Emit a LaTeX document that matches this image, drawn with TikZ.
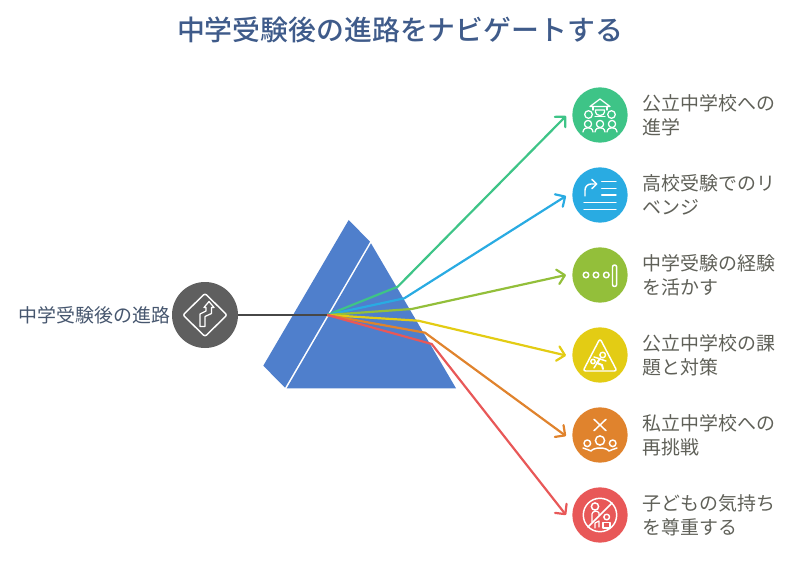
\documentclass[tikz,border=0pt]{standalone}
\usepackage{fontspec}
\setmainfont{Noto Sans CJK JP}
\newfontfamily\titlefont{Noto Sans CJK JP Medium}
\usetikzlibrary{arrows.meta}
\definecolor{cg}{HTML}{3EC487}
\definecolor{cb}{HTML}{29ABE2}
\definecolor{co}{HTML}{93BF3A}
\definecolor{cy}{HTML}{E3CC14}
\definecolor{cr}{HTML}{E0832D}
\definecolor{cd}{HTML}{E85858}
\definecolor{prism}{HTML}{4F7FCC}
\definecolor{hubc}{HTML}{5F5F5F}
\definecolor{titlec}{HTML}{3F5B8A}
\definecolor{bodyc}{HTML}{5F6058}
\definecolor{leftc}{HTML}{46566E}
\tikzset{
 x=0.75pt,y=-0.75pt,
 ray/.style={line width=1.65pt,-{Straight Barb[length=5.5pt,width=11pt,round]}},
 iconc/.style={circle,minimum size=41.5pt,inner sep=0pt,fill=#1},
 lbl/.style={anchor=west,align=left,text=bodyc,font=\fontsize{14.2pt}{18pt}\selectfont,inner sep=0pt},
 ic/.style={draw=white,line width=1.1pt,line cap=round,line join=round},
 icthin/.style={draw=white,line width=0.95pt,line cap=round,line join=round},
}
\begin{document}
\begin{tikzpicture}
\useasboundingbox (0,0) rectangle (800,563);
\node[anchor=center,text=titlec,font=\fontsize{20.9pt}{24pt}\selectfont\titlefont,inner sep=0pt] (title) at (400,30) {中学受験後の進路をナビゲートする};
% prism
\fill[prism] (348.7,220) -- (370,241.7) -- (285,387.7) -- (263.3,365.7) -- cycle;
\fill[prism] (371,243.3) -- (456,388.3) -- (286.7,388.3) -- cycle;
% nodes
\node[circle,minimum size=49.5pt,inner sep=0pt,fill=hubc] (hub) at (205,315) {};
\node[anchor=east,text=leftc,font=\fontsize{14.2pt}{18pt}\selectfont,inner sep=0pt] (src) at (170.5,315) {中学受験後の進路};
\node[iconc=cg] (i1) at (600,115) {};
\node[iconc=cb] (i2) at (600,195) {};
\node[iconc=co] (i3) at (600,275) {};
\node[iconc=cy] (i4) at (600,355) {};
\node[iconc=cr] (i5) at (600,435) {};
\node[iconc=cd] (i6) at (600,515) {};
\node[lbl] (l1) at (642.5,115) {公立中学校への\\進学};
\node[lbl] (l2) at (642.5,195) {高校受験でのリ\\ベンジ};
\node[lbl] (l3) at (642.5,275) {中学受験の経験\\を活かす};
\node[lbl] (l4) at (642.5,355) {公立中学校の課\\題と対策};
\node[lbl] (l5) at (642.5,435) {私立中学校への\\再挑戦};
\node[lbl] (l6) at (642.5,515) {子どもの気持ち\\を尊重する};
% ray points
\coordinate (o) at (327.3,315);
\coordinate (b1) at (397.7,286.7); \coordinate (t1) at (566,116);
\coordinate (b2) at (404.3,298.3); \coordinate (t2) at (566,196);
\coordinate (b3) at (411.7,309);   \coordinate (t3) at (566,275);
\coordinate (b4) at (418.3,320.7); \coordinate (t4) at (566,355.5);
\coordinate (b5) at (425,332.7);   \coordinate (t5) at (566,436);
\coordinate (b6) at (431.7,344);   \coordinate (t6) at (566,515);
\draw[line width=1.5pt,color=black!72] (hub) -- (o);
\draw[ray,cg] (o) -- (b1) -- (t1);
\draw[ray,cb] (o) -- (b2) -- (t2);
\draw[ray,co] (o) -- (b3) -- (t3);
\draw[ray,cy] (o) -- (b4) -- (t4);
\draw[ray,cr] (o) -- (b5) -- (t5);
\draw[ray,cd] (o) -- (b6) -- (t6);
% hub icon
\begin{scope}[shift={(hub)},x=0.75pt,y=-0.75pt]
\draw[ic,rounded corners=1.5pt] (0,-21.5) -- (22,0) -- (0,21.5) -- (-22,0) -- cycle;
\draw[icthin] (-5,11.5) -- (-5,-1) -- (1,-4) -- (1,-7.5) -- (-1,-7.5) -- (4,-13.5) -- (9,-7.5) -- (6.5,-7.5) -- (6.5,-1.5) -- (0,1.5) -- (0,11.5) -- cycle;
\end{scope}
% icon 1
\begin{scope}[shift={(i1)},x=0.75pt,y=-0.75pt]
\draw[icthin] (-10,-8.5) -- (0,-16) -- (10,-8.5) -- cycle;
\draw[icthin] (-7,-8.5) -- (-7,-5) (7,-8.5) -- (7,-5) (-5,1.5) -- (5,1.5);
\draw[icthin] (-4.5,-5) -- (-4.5,-3) arc (180:0:4.5 and 3.5) -- (4.5,-5) -- cycle;
\draw[icthin] (-11.5,-0.5) circle (3.8) (11.5,-0.5) circle (3.8);
\foreach \p in {-12,0,12}{
 \draw[icthin] (\p,9) circle (3.6);
 \draw[icthin] (\p-5,17) -- (\p-4.5,15.2) arc (180:360:4.5 and 2.4) -- (\p+5,17);
}
\end{scope}
% icon 2
\begin{scope}[shift={(i2)},x=0.75pt,y=-0.75pt]
\draw[ic] (1.7,-13.3) -- (16,-13.3) (1.7,-6.7) -- (16,-6.7) (1.7,0) -- (16,0);
\draw[ic] (-16,7.3) -- (16,7.3) (-16,14.3) -- (16,14.3);
\draw[ic] (-15,1) -- (-15,-5) arc (180:270:6) -- (-4,-11);
\draw[ic] (-8,-15.5) -- (-3.3,-11) -- (-8,-6.5);
\end{scope}
% icon 3
\begin{scope}[shift={(i3)},x=0.75pt,y=-0.75pt]
\foreach \p in {-14,-4,6.3}{\draw[ic] (\p,0) circle (2.8);}
\draw[ic,rounded corners=1.5pt] (12.5,-10) rectangle (16.7,11.5);
\end{scope}
% icon 4
\begin{scope}[shift={(i4)},x=0.75pt,y=-0.75pt]
\draw[ic,rounded corners=2pt] (0,-16.5) -- (17,16) -- (-17,16) -- cycle;
\draw[ic] (2.7,0) circle (2.8);
\draw[ic,line width=1.5pt] (0,3.5) -- (-3,8) -- (2,10) -- (3,14);
\draw[ic] (-3,8) -- (-6,13) (0,4) -- (6,6) (-1,3.5) -- (-6,2);
\draw[ic] (-7,6.5) circle (2.2);
\end{scope}
% icon 5
\begin{scope}[shift={(i5)},x=0.75pt,y=-0.75pt]
\draw[ic] (-6,-15.7) -- (6,-4.3) (6,-15.7) -- (-6,-4.3);
\draw[ic] (0,5.5) circle (4.6);
\draw[ic] (-12.7,8.3) circle (3.3);
\draw[ic] (12.7,8.3) circle (3.3);
\draw[ic] (-17,13) .. controls (-14,15) and (-11,14) .. (-9,16) .. controls (-6,12) and (6,12) .. (9,16) .. controls (11,14) and (14,15) .. (17,13);
\end{scope}
% icon 6
\begin{scope}[shift={(i6)},x=0.75pt,y=-0.75pt]
\draw[ic] (0,0) circle (16.7);
\draw[ic] (-12,12) -- (12,-12);
\draw[ic] (-5,-8.5) circle (3.6);
\draw[icthin] (-8,7) -- (-8,-1) .. controls (-8,-4) and (-2,-5) .. (-1,-2) -- (-1,0) (-5,13) -- (-5,8) -- (-1,6) -- (-1,12);
\draw[ic] (6.7,2) circle (2.8);
\draw[icthin] (3,13) -- (3,7.5) -- (10,7.5) -- (10,13) -- cycle;
\end{scope}
\end{tikzpicture}
\end{document}
